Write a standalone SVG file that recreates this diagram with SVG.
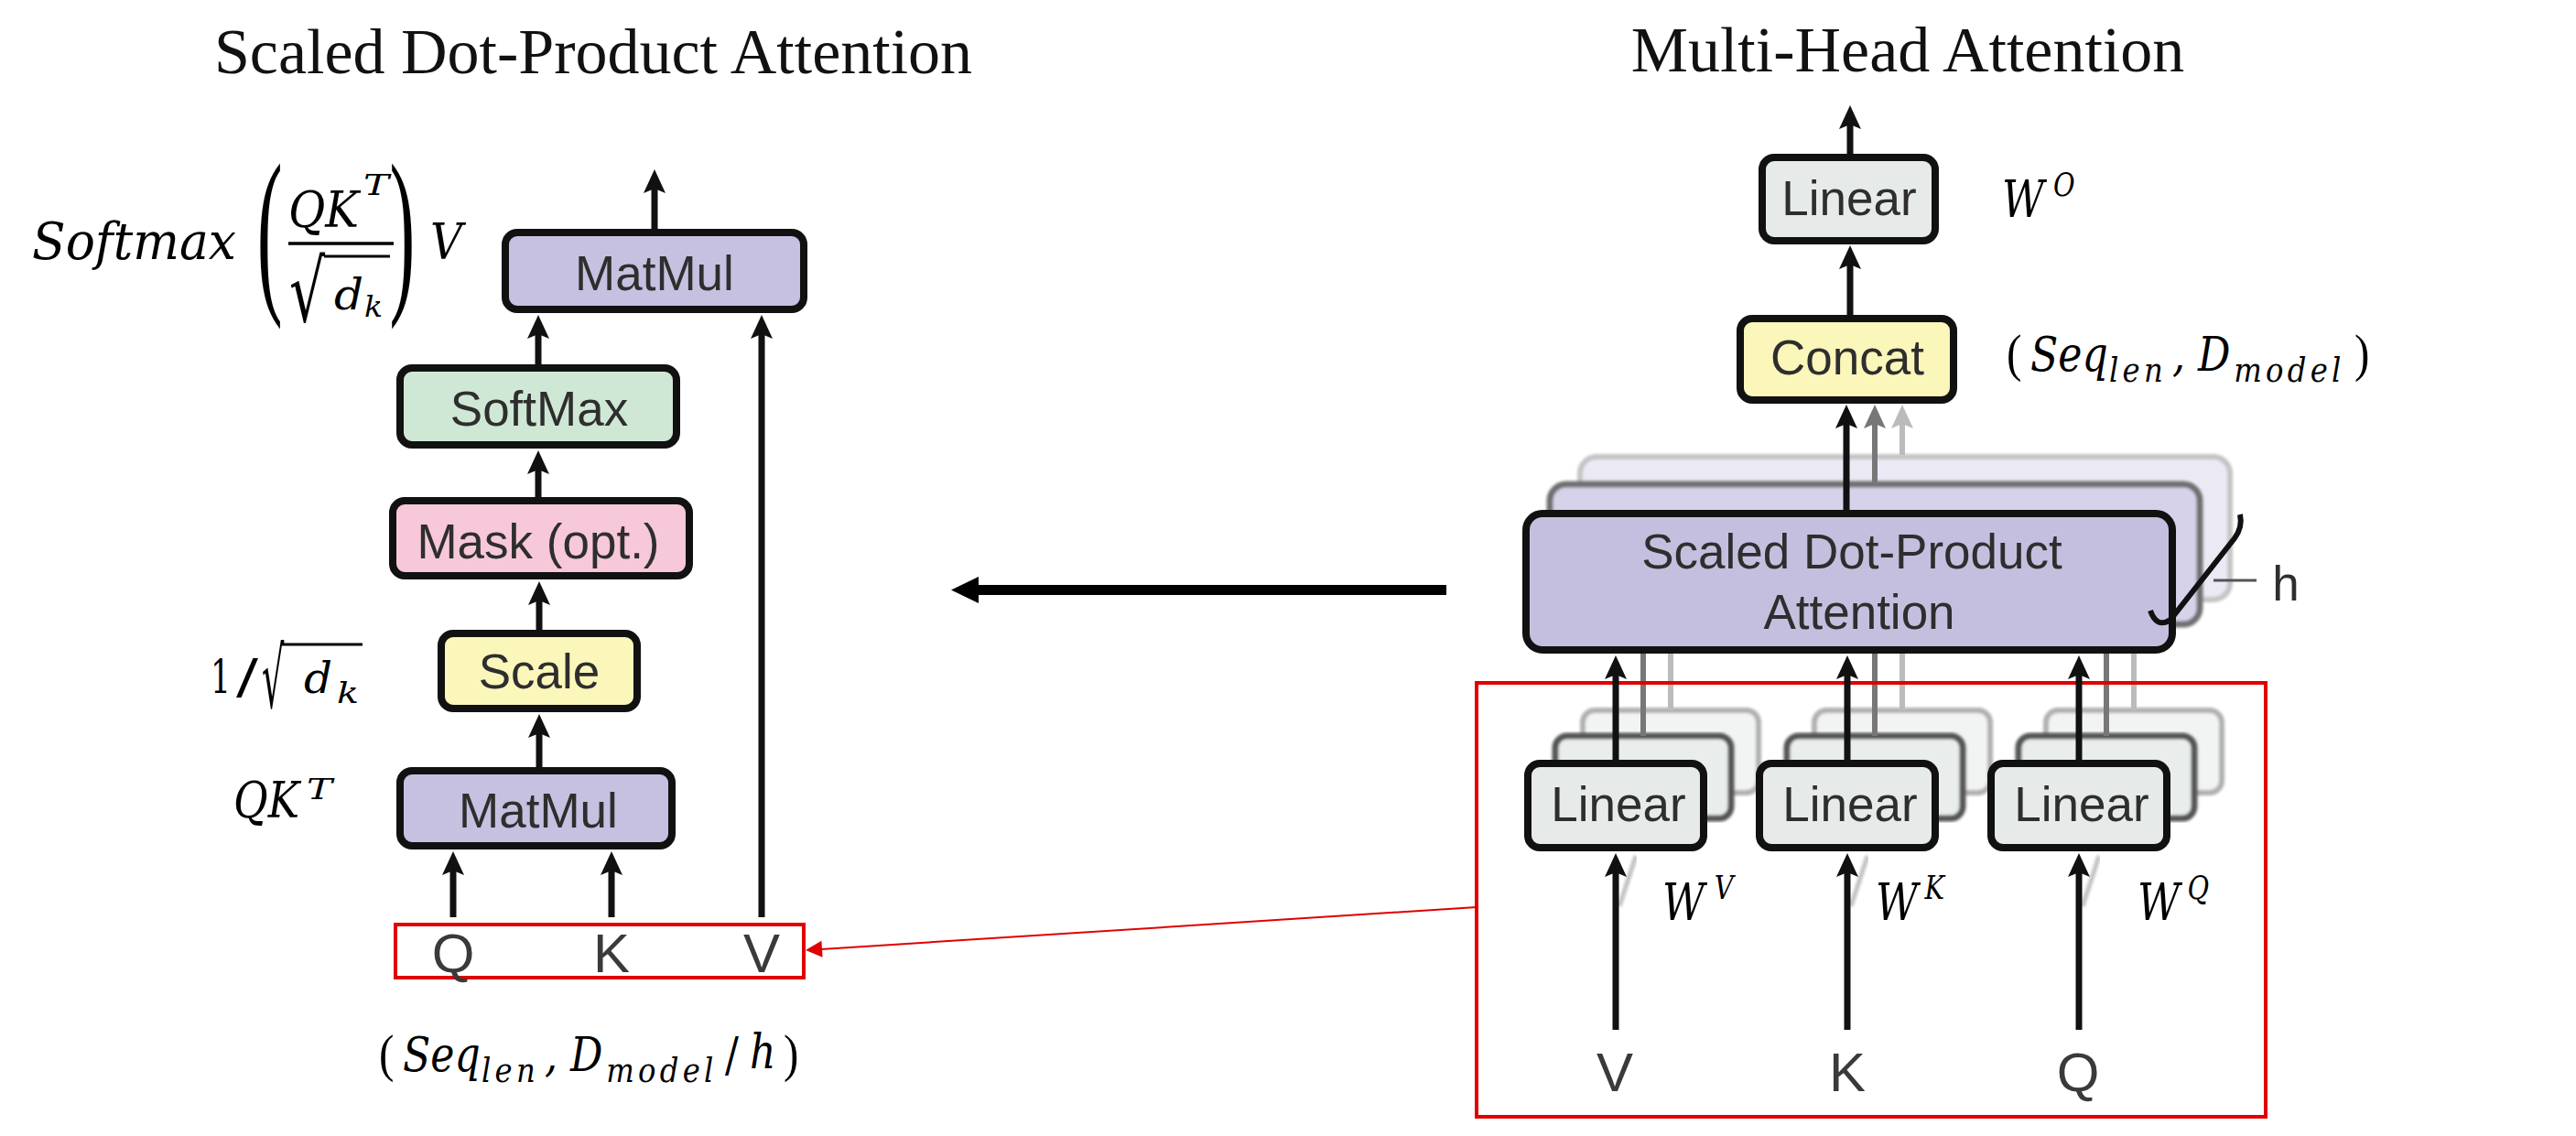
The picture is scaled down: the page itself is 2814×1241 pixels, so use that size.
<svg xmlns="http://www.w3.org/2000/svg" width="2814" height="1241" viewBox="0 0 2814 1241">
<style>
.title{font-family:"Liberation Serif","Times New Roman",serif;font-size:70px;fill:#111;text-anchor:middle}
.lbl{font-family:"Liberation Sans",Arial,sans-serif;font-size:53px;fill:#2e2e2e;text-anchor:middle}
.io{font-family:"Liberation Sans",Arial,sans-serif;font-size:60px;fill:#3a3a3a;text-anchor:middle}
.box{stroke:#111;stroke-width:8}
.m{font-family:"DejaVu Serif",serif;font-style:italic;fill:#000}
.mu{font-family:"DejaVu Serif",serif;fill:#000}
.par{font-family:"Liberation Serif","Times New Roman",serif;font-style:normal;fill:#000}
.rad{font-family:"DejaVu Sans",sans-serif;fill:#000}
.sub{font-size:38px;letter-spacing:5px}
.arr{stroke:#111;stroke-width:7;fill:none;marker-end:url(#ah)}
.g1{stroke:#777;stroke-width:6;fill:none}
.g2{stroke:#bbb;stroke-width:6;fill:none}
.red{stroke:#e00000;stroke-width:4;fill:none}
</style>
<defs>
<marker id="ah" viewBox="0 0 26 24" refX="6" refY="12" markerWidth="26" markerHeight="24" markerUnits="userSpaceOnUse" orient="auto"><path d="M0,0 L26,12 L0,24 L5,12 z" fill="#111"/></marker>
<marker id="ahg" viewBox="0 0 26 24" refX="6" refY="12" markerWidth="26" markerHeight="24" markerUnits="userSpaceOnUse" orient="auto"><path d="M0,0 L26,12 L0,24 L5,12 z" fill="#777"/></marker>
<marker id="ahl" viewBox="0 0 26 24" refX="6" refY="12" markerWidth="26" markerHeight="24" markerUnits="userSpaceOnUse" orient="auto"><path d="M0,0 L26,12 L0,24 L5,12 z" fill="#bbb"/></marker>
<filter id="blur" x="-5%" y="-5%" width="110%" height="110%"><feGaussianBlur stdDeviation="1.6"/></filter>
</defs>
<rect width="2814" height="1241" fill="#fff"/>

<text class="title" x="648" y="80">Scaled Dot-Product Attention</text>
<text class="title" x="2084" y="78">Multi-Head Attention</text>

<!-- Left: Scaled Dot-Product Attention -->
<g id="matmul-top"><rect class="box" x="552" y="254" width="326" height="84" rx="13" fill="#c6c1e1"/><text class="lbl" x="715" y="317">MatMul</text></g>
<g id="softmax"><rect class="box" x="437" y="402" width="302" height="84" rx="13" fill="#cfe8d5"/><text class="lbl" x="589" y="465">SoftMax</text></g>
<g id="mask"><rect class="box" x="429" y="547" width="324" height="82" rx="13" fill="#f7c8da"/><text class="lbl" x="588" y="610">Mask (opt.)</text></g>
<g id="scale"><rect class="box" x="482" y="692" width="214" height="82" rx="13" fill="#fbf7bb"/><text class="lbl" x="589" y="752">Scale</text></g>
<g id="matmul-bottom"><rect class="box" x="437" y="842" width="297" height="82" rx="13" fill="#c6c1e1"/><text class="lbl" x="588" y="904">MatMul</text></g>
<g id="qkv-left"><rect class="red" x="432" y="1010" width="446" height="58"/><text class="io" x="495" y="1062">Q</text><text class="io" x="668" y="1062">K</text><text class="io" x="832" y="1062">V</text></g>

<g id="formula">
<text class="m" x="35" y="283" font-size="56" textLength="223" lengthAdjust="spacingAndGlyphs">Softmax</text>
<text class="par" font-size="199" transform="translate(285,317) scale(0.42,1)" x="-10" y="0">(</text>
<text class="m" x="315" y="248" font-size="54" textLength="77" lengthAdjust="spacingAndGlyphs">QK</text>
<text class="m" x="397" y="213" font-size="32" textLength="28" lengthAdjust="spacingAndGlyphs">T</text>
<line x1="315" y1="266" x2="430" y2="266" stroke="#000" stroke-width="3.5"/>
<text class="rad" font-size="93" transform="translate(316,351) scale(0.66,1)" x="0" y="0">√</text>
<line x1="354" y1="280" x2="426" y2="280" stroke="#000" stroke-width="3"/>
<text class="m" x="365" y="338" font-size="46" textLength="32" lengthAdjust="spacingAndGlyphs">d</text>
<text class="m" x="398" y="346" font-size="32" textLength="20" lengthAdjust="spacingAndGlyphs">k</text>
<text class="par" font-size="199" transform="translate(428,317) scale(0.42,1)" x="-6" y="0">)</text>
<text class="m" x="470" y="283" font-size="54" textLength="35" lengthAdjust="spacingAndGlyphs">V</text>
</g>
<g id="scale-label">
<text class="mu" x="230" y="757" font-size="50" textLength="22" lengthAdjust="spacingAndGlyphs">1</text>
<text class="mu" x="258" y="757" font-size="52" textLength="24" lengthAdjust="spacingAndGlyphs">/</text>
<text class="rad" font-size="91" transform="translate(286,773) scale(0.42,1)" x="0" y="0">√</text>
<line x1="308" y1="704" x2="396" y2="704" stroke="#000" stroke-width="3"/>
<text class="m" x="332" y="757" font-size="46" textLength="31" lengthAdjust="spacingAndGlyphs">d</text>
<text class="m" x="368" y="768" font-size="32" textLength="24" lengthAdjust="spacingAndGlyphs">k</text>
</g>
<g id="qkt-label">
<text class="m" x="255" y="893" font-size="54" textLength="72" lengthAdjust="spacingAndGlyphs">QK</text>
<text class="m" x="335" y="873" font-size="32" textLength="28" lengthAdjust="spacingAndGlyphs">T</text>
</g>
<g id="shape-left">
<text class="m" font-size="52" transform="translate(414,1170) scale(0.85,1)"><tspan class="par" x="0" y="0" font-size="58">(</tspan><tspan x="30.6" y="0">Seq</tspan><tspan class="sub" x="131.8" y="12">len</tspan><tspan x="213" y="0">,</tspan><tspan x="246" y="0">D</tspan><tspan class="sub" x="292" y="12" letter-spacing="6">model</tspan><tspan font-style="normal" x="444.7" y="0">/</tspan><tspan x="476.5" y="-3">h</tspan><tspan class="par" x="520" y="0" font-size="58">)</tspan></text>
</g>

<!-- Right: Multi-Head Attention -->
<g id="linear-out"><rect class="box" x="1925" y="172" width="189" height="91" rx="13" fill="#e6ebea"/><text class="lbl" x="2020" y="235" font-size="51">Linear</text></g>
<g id="wo-label"><text class="m" font-size="56" transform="translate(2187,237) scale(0.8,1)"><tspan x="0" y="0">W</tspan><tspan x="70" y="-23" font-size="36">O</tspan></text></g>
<g id="concat"><rect class="box" x="1901" y="348" width="233" height="89" rx="13" fill="#fbf6b9"/><text class="lbl" x="2018" y="409" font-size="54">Concat</text></g>
<g id="shape-right">
<text class="m" font-size="52" transform="translate(2192,405) scale(0.85,1)"><tspan class="par" x="0" y="0" font-size="58">(</tspan><tspan x="30.6" y="0">Seq</tspan><tspan class="sub" x="131.8" y="12">len</tspan><tspan x="213" y="0">,</tspan><tspan x="246" y="0">D</tspan><tspan class="sub" x="292" y="12" letter-spacing="6">model</tspan><tspan class="par" x="447.1" y="0" font-size="58">)</tspan></text>
</g>

<g id="sdpa-stack">
<rect x="1726" y="499" width="710" height="156" rx="18" fill="#ebe9f4" stroke="#c4c4c4" stroke-width="6" filter="url(#blur)"/>
<rect x="1693" y="529" width="710" height="153" rx="18" fill="#d6d2ea" stroke="#707070" stroke-width="7" filter="url(#blur)"/>
<rect class="box" x="1667" y="561" width="706" height="149" rx="18" fill="#c5bfdf"/>
<text class="lbl" x="2023" y="621">Scaled Dot-Product</text>
<text class="lbl" x="2031" y="687">Attention</text>
</g>
<g id="h-label">
<path d="M2349,667 Q2356,687 2371,677 L2441,588 Q2450,576 2447,562" fill="none" stroke="#111" stroke-width="6"/>
<line x1="2418" y1="634" x2="2465" y2="634" stroke="#555" stroke-width="3"/>
<text class="lbl" x="2497" y="656" font-size="52" fill="#444">h</text>
</g>

<g id="linear-v">
<rect x="1729" y="776" width="192" height="90" rx="13" fill="#f2f4f3" stroke="#b0b0b0" stroke-width="6" filter="url(#blur)"/>
<line class="g2" x1="1825" y1="776" x2="1825" y2="714"/>
<rect x="1699" y="804" width="192" height="90" rx="13" fill="#e9eeed" stroke="#555" stroke-width="7" filter="url(#blur)"/>
<line class="g1" x1="1795" y1="804" x2="1795" y2="714"/>
<rect class="box" x="1669" y="834" width="192" height="92" rx="13" fill="#e6ebea"/>
<text class="lbl" x="1768" y="897" font-size="51">Linear</text>
</g>
<g id="linear-k">
<rect x="1982" y="776" width="192" height="90" rx="13" fill="#f2f4f3" stroke="#b0b0b0" stroke-width="6" filter="url(#blur)"/>
<line class="g2" x1="2078" y1="776" x2="2078" y2="714"/>
<rect x="1952" y="804" width="192" height="90" rx="13" fill="#e9eeed" stroke="#555" stroke-width="7" filter="url(#blur)"/>
<line class="g1" x1="2048" y1="804" x2="2048" y2="714"/>
<rect class="box" x="1922" y="834" width="192" height="92" rx="13" fill="#e6ebea"/>
<text class="lbl" x="2021" y="897" font-size="51">Linear</text>
</g>
<g id="linear-q">
<rect x="2235" y="776" width="192" height="90" rx="13" fill="#f2f4f3" stroke="#b0b0b0" stroke-width="6" filter="url(#blur)"/>
<line class="g2" x1="2331" y1="776" x2="2331" y2="714"/>
<rect x="2205" y="804" width="192" height="90" rx="13" fill="#e9eeed" stroke="#555" stroke-width="7" filter="url(#blur)"/>
<line class="g1" x1="2301" y1="804" x2="2301" y2="714"/>
<rect class="box" x="2175" y="834" width="192" height="92" rx="13" fill="#e6ebea"/>
<text class="lbl" x="2274" y="897" font-size="51">Linear</text>
</g>
<g id="w-labels">
<text class="m" font-size="56" transform="translate(1816,1005) scale(0.8,1)"><tspan x="0" y="0">W</tspan><tspan x="71" y="-23" font-size="36">V</tspan></text>
<text class="m" font-size="56" transform="translate(2049,1005) scale(0.8,1)"><tspan x="0" y="0">W</tspan><tspan x="67" y="-23" font-size="36">K</tspan></text>
<text class="m" font-size="56" transform="translate(2335,1005) scale(0.8,1)"><tspan x="0" y="0">W</tspan><tspan x="68" y="-23" font-size="36">Q</tspan></text>
</g>
<g id="qkv-right">
<rect class="red" x="1613" y="746" width="862" height="474"/>
<text class="io" x="1764" y="1192">V</text><text class="io" x="2018" y="1192">K</text><text class="io" x="2270" y="1192">Q</text>
</g>

<g id="connectors">
<line class="arr" x1="715" y1="250" x2="715" y2="205"/>
<line class="arr" x1="588" y1="398" x2="588" y2="364"/>
<line class="arr" x1="588" y1="543" x2="588" y2="512"/>
<line class="arr" x1="589" y1="688" x2="589" y2="655"/>
<line class="arr" x1="589" y1="838" x2="589" y2="800"/>
<line class="arr" x1="495" y1="1002" x2="495" y2="950"/>
<line class="arr" x1="668" y1="1002" x2="668" y2="950"/>
<line class="arr" x1="832" y1="1002" x2="832" y2="364"/>
<rect x="1069" y="639" width="511" height="11" fill="#000"/>
<polygon points="1039,644.5 1069,630 1069,659" fill="#000"/>
<line x1="1613" y1="991" x2="897" y2="1037" stroke="#e00000" stroke-width="2"/>
<polygon points="880,1038 898.6,1045.8 897.4,1027.8" fill="#e00000"/>
<line class="arr" x1="2021" y1="168" x2="2021" y2="135"/>
<line class="arr" x1="2021" y1="344" x2="2021" y2="288"/>
<line x1="2078" y1="497" x2="2078" y2="462" stroke="#bbb" stroke-width="6" marker-end="url(#ahl)"/>
<line x1="2048" y1="527" x2="2048" y2="462" stroke="#777" stroke-width="6" marker-end="url(#ahg)"/>
<line class="arr" x1="2017" y1="557" x2="2017" y2="462"/>
<line class="arr" x1="1765" y1="830" x2="1765" y2="736"/>
<line class="arr" x1="2018" y1="830" x2="2018" y2="736"/>
<line class="arr" x1="2271" y1="830" x2="2271" y2="736"/>
<line x1="1787" y1="935" x2="1769" y2="990" stroke="#999" stroke-width="5" opacity="0.6" filter="url(#blur)"/>
<line x1="2040" y1="935" x2="2022" y2="990" stroke="#999" stroke-width="5" opacity="0.6" filter="url(#blur)"/>
<line x1="2293" y1="935" x2="2275" y2="990" stroke="#999" stroke-width="5" opacity="0.6" filter="url(#blur)"/>
<line class="arr" x1="1765" y1="1125" x2="1765" y2="952"/>
<line class="arr" x1="2018" y1="1125" x2="2018" y2="952"/>
<line class="arr" x1="2271" y1="1125" x2="2271" y2="952"/>
</g>
</svg>
